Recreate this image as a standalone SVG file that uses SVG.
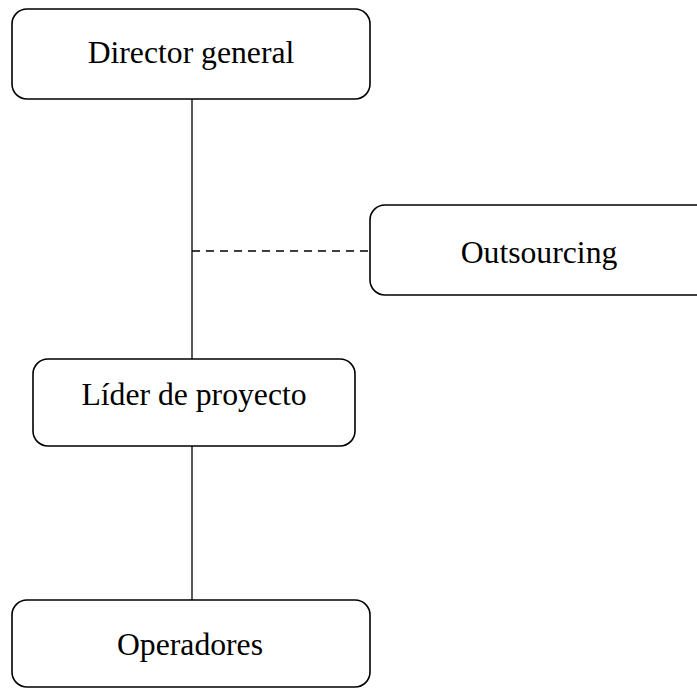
<svg xmlns="http://www.w3.org/2000/svg" width="697" height="689" viewBox="0 0 697 689">
<style>
.box{fill:#fff;stroke:#000;stroke-width:1.6}
.lbl{font-family:"Liberation Serif","Times New Roman",serif;font-size:31.7px;fill:#000;text-anchor:middle}
.ln{stroke:#000;stroke-width:1.3;fill:none}
.dash{stroke-dasharray:8,6}
</style>
<rect width="697" height="689" fill="#fff"/>
<g id="connectors">
<line class="ln" x1="192" y1="99" x2="192" y2="359"/>
<line class="ln" x1="192" y1="446" x2="192" y2="600"/>
<line class="ln dash" x1="192" y1="251" x2="370" y2="251"/>
</g>
<g id="director">
<rect class="box" x="12" y="9" width="358" height="90" rx="15"/>
<text class="lbl" x="191" y="63">Director general</text>
</g>
<g id="outsourcing">
<rect class="box" x="370" y="205" width="345" height="90" rx="15"/>
<text class="lbl" x="539" y="263">Outsourcing</text>
</g>
<g id="lider">
<rect class="box" x="33" y="359" width="322" height="87" rx="15"/>
<text class="lbl" x="194" y="405">Líder de proyecto</text>
</g>
<g id="operadores">
<rect class="box" x="12" y="600" width="358" height="87" rx="15"/>
<text class="lbl" x="190" y="655">Operadores</text>
</g>
</svg>
